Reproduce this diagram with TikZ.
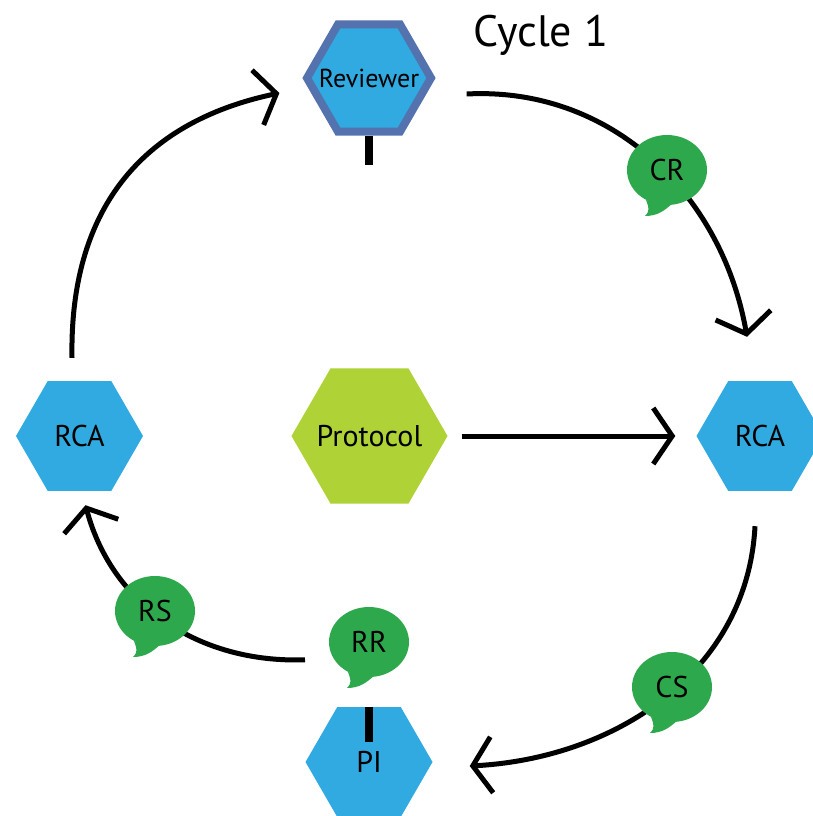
\documentclass[tikz,border=0pt]{standalone}
\usepackage{fontspec}
\setmainfont{PT Sans}
\usetikzlibrary{shapes.geometric,arrows.meta}
\definecolor{rcablue}{HTML}{30AAE0}
\definecolor{revframe}{HTML}{5472AE}
\definecolor{protogreen}{HTML}{AFD236}
\definecolor{talkgreen}{HTML}{2EA84C}
\newcommand{\bubbletail}[1]{\fill[talkgreen] (#1.235) .. controls +(3,-8) and +(5,5) .. ([shift={(-22,-46)}]#1.center) .. controls +(13,0) and +(-6,-5) .. (#1.276) -- cycle;}
\begin{document}
\begin{tikzpicture}[x=1pt,y=1pt,
  hexnode/.style={regular polygon,regular polygon sides=6,inner sep=0pt,fill=rcablue,minimum size=127pt,
    label={[font=\fontsize{30}{36}\selectfont]center:#1}},
  talk/.style={ellipse,fill=talkgreen,inner sep=0pt,minimum width=80pt,minimum height=70pt,font=\fontsize{30}{36}\selectfont},
  flow/.style={line width=5pt,-{Straight Barb[length=19pt,width=56pt]}},
  stub/.style={line width=8pt}]
\useasboundingbox (0,0) rectangle (813,-816);
\node[hexnode=,draw=revframe,line width=8pt,minimum size=124pt,
  label={[font=\fontsize{26}{30}\selectfont]center:Reviewer}] (rev) at (369,-78) {};
\node[hexnode=Protocol,fill=protogreen,minimum size=156pt] (proto) at (369.5,-436) {};
\node[hexnode=RCA] (rcaL) at (79.5,-436) {};
\node[hexnode=RCA] (rcaR) at (760,-436) {};
\node[hexnode=PI] (pi) at (369,-762) {};
\node[font=\fontsize{44}{50}\selectfont] (cycle) at (541,-35) {Cycle 1};
% cycle arcs
\draw[flow] ([shift={(31,-16)}]rev.east) to[out=3,in=100] ([shift={(-13,44)}]rcaR.north);
\draw[flow] ([shift={(-5,-35)}]rcaR.south) to[out=-93,in=3] ([shift={(37,-4)}]pi.east);
\draw[flow] ([shift={(-64,47)}]pi.north) to[out=182,in=-75] ([shift={(6,-14)}]rcaL.south);
\draw[flow] ([shift={(-7.5,23)}]rcaL.north) to[out=91,in=192,looseness=1.1] ([shift={(-23,-15)}]rev.west);
\draw[flow] ([xshift=14pt]proto.east) -- ([xshift=-21pt]rcaR.west);
% messages
\draw[stub] (rev.south) -- ++(0,-29);
\draw[stub] (pi.north) -- ++(0,-35);
\node[talk] (cr) at (667,-170) {CR};
\node[talk] (cs) at (672,-687) {CS};
\node[talk] (rr) at (369,-642) {RR};
\node[talk] (rs) at (155,-611) {RS};
\bubbletail{cr}
\bubbletail{cs}
\bubbletail{rr}
\bubbletail{rs}
\end{tikzpicture}
\end{document}
